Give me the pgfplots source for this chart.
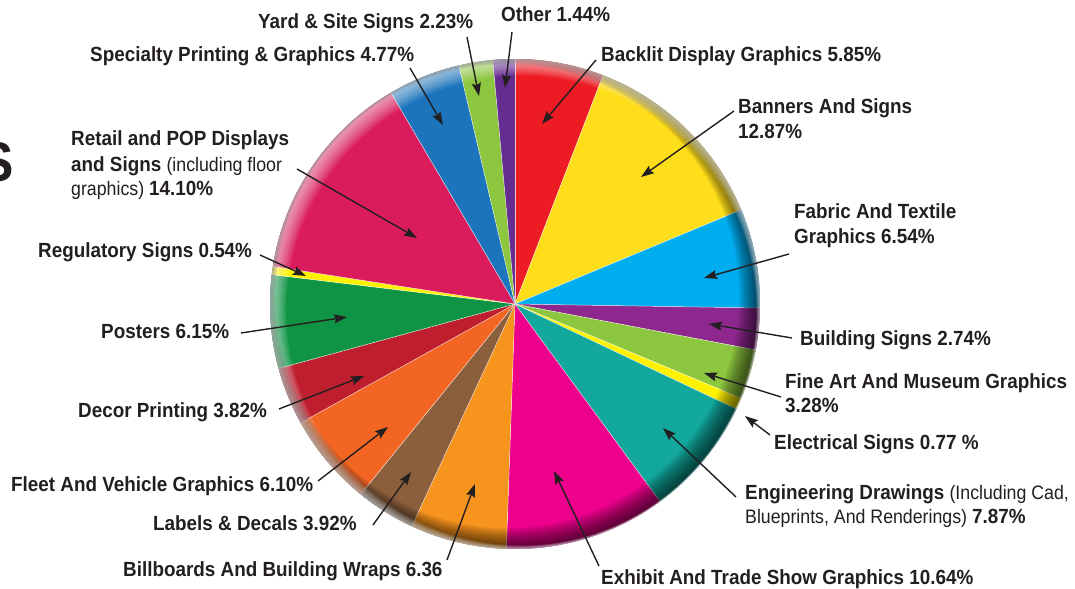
\documentclass[border=0pt]{standalone}
\usepackage{pgfplots}
\pgfplotsset{compat=1.18}
\usetikzlibrary{arrows.meta}
\usepackage{fontspec}
\setmainfont{Liberation Sans}[FakeStretch=0.92]
\newfontfamily\condreg{Liberation Sans}[FakeStretch=0.91]

\definecolor{txt}{HTML}{231F20}
\definecolor{cBacklit}{HTML}{ED1C24}
\definecolor{cBanners}{HTML}{FEDD1B}
\definecolor{cFabric}{HTML}{00AEEF}
\definecolor{cBuilding}{HTML}{8E288F}
\definecolor{cFineArt}{HTML}{8DC63F}
\definecolor{cElectrical}{HTML}{FFF200}
\definecolor{cEngineering}{HTML}{12A89D}
\definecolor{cExhibit}{HTML}{EC008C}
\definecolor{cBillboards}{HTML}{F7941D}
\definecolor{cLabels}{HTML}{8B5E3C}
\definecolor{cFleet}{HTML}{F26522}
\definecolor{cDecor}{HTML}{BE1E2D}
\definecolor{cPosters}{HTML}{0F9445}
\definecolor{cRegulatory}{HTML}{FFF200}
\definecolor{cRetail}{HTML}{DA1C5C}
\definecolor{cSpecialty}{HTML}{1C75BC}
\definecolor{cYard}{HTML}{8DC63F}
\definecolor{cOther}{HTML}{662D91}

\newcommand\B{\fontsize{20.5bp}{24bp}\selectfont\bfseries}
\newcommand\R{\condreg\fontsize{19.5bp}{22bp}\selectfont\mdseries}

\def\cum{0}
\newcommand\slice[2]{%
  \pgfmathsetmacro\aE{90-3.6*\cum}%
  \pgfmathsetmacro\cumnew{\cum+#1}%
  \global\let\cum\cumnew
  \pgfmathsetmacro\aS{90-3.6*\cum}%
  \edef\doslice{\noexpand\addplot[fill=#2, draw=none, data cs=polar, domain=\aS:\aE, samples=60, forget plot] {245} -- (axis cs:0,0) -- cycle;}%
  \doslice
  \edef\doline{\noexpand\addplot[draw=white, draw opacity=0.75, line width=0.5bp, data cs=polar, forget plot] coordinates {(\aE,0) (\aE,245)};}%
  \doline}

\begin{document}
\begin{tikzpicture}
\useasboundingbox (0,0) rectangle (1075bp,589bp);
\begin{axis}[at={(0,0)}, anchor=south west, x=1bp, y=1bp,
  xmin=-515, xmax=560, ymin=-285, ymax=304, enlargelimits=false,
  hide axis, clip=false]
% percentages, clockwise from 12 o'clock
\slice{5.85}{cBacklit}
\slice{12.87}{cBanners}
\slice{6.54}{cFabric}
\slice{2.74}{cBuilding}
\slice{3.28}{cFineArt}
\slice{0.77}{cElectrical}
\slice{7.87}{cEngineering}
\slice{10.64}{cExhibit}
\slice{6.36}{cBillboards}
\slice{3.92}{cLabels}
\slice{6.10}{cFleet}
\slice{3.82}{cDecor}
\slice{6.15}{cPosters}
\slice{0.54}{cRegulatory}
\slice{14.10}{cRetail}
\slice{4.77}{cSpecialty}
\slice{2.23}{cYard}
\slice{1.44}{cOther}
% rim shading (dark bottom-right, light top-left)
\pgfplotsinvokeforeach{1,...,12}{%
  \fill[black, fill opacity=0.07, even odd rule] (axis cs:0,0) circle[radius=245]
     (axis cs:{-0.636*#1},{0.636*#1}) circle[radius={245-1.1*#1}];}
\pgfplotsinvokeforeach{1,...,10}{%
  \fill[white, fill opacity=0.08, even odd rule] (axis cs:0,0) circle[radius=245]
     (axis cs:{0.636*#1},{-0.636*#1}) circle[radius={245-1.0*#1}];}
\end{axis}

\begin{scope}[x=1bp, y=-1bp, shift={(0,589bp)}, every node/.style={inner sep=0pt, text=txt, anchor=base west},
  arr/.style={draw=txt, line width=1.4bp, -{Stealth[length=13bp, width=9bp, inset=2bp]}}]
% big cut letter
\node[anchor=base east] at (14,182) {\fontsize{56bp}{60bp}\selectfont\bfseries S};
% labels
\node at (258,29) {\B Yard \& Site Signs 2.23\%};
\node at (501,22) {\B Other 1.44\%};
\node at (90,62) {\B Specialty Printing \& Graphics 4.77\%};
\node at (601,62) {\B Backlit Display Graphics 5.85\%};
\node at (738,114) {\B Banners And Signs};
\node at (738,139) {\B 12.87\%};
\node at (71,146) {\B Retail and POP Displays};
\node at (71,172) {\B and Signs {\R(including floor}};
\node at (71,196) {{\R graphics) }\B 14.10\%};
\node at (794,219) {\B Fabric And Textile};
\node at (794,244) {\B Graphics 6.54\%};
\node at (38,258) {\B Regulatory Signs 0.54\%};
\node at (101,339) {\B Posters 6.15\%};
\node at (800,346) {\B Building Signs 2.74\%};
\node at (785,389) {\B Fine Art And Museum Graphics};
\node at (785,413) {\B 3.28\%};
\node at (78,418) {\B Decor Printing 3.82\%};
\node at (774,450) {\B Electrical Signs 0.77 \%};
\node at (11,492) {\B Fleet And Vehicle Graphics 6.10\%};
\node at (745,500) {\B Engineering Drawings {\R(Including Cad,}};
\node at (745,524) {{\R Blueprints, And Renderings) }\B 7.87\%};
\node at (153,531) {\B Labels \& Decals 3.92\%};
\node at (123,577) {\B Billboards And Building Wraps 6.36};
\node at (601,585) {\B Exhibit And Trade Show Graphics 10.64\%};
% arrows
\draw[arr] (467,37) -- (479,96);
\draw[arr] (512,32) -- (505,88);
\draw[arr] (410,68) -- (443,125);
\draw[arr] (596,60) -- (542,124);
\draw[arr] (734,111) -- (641,177);
\draw[arr] (789,254) -- (704,278);
\draw[arr] (792,338) -- (709,324);
\draw[arr] (781,397) -- (704,373);
\draw[arr] (770,435) -- (745,416);
\draw[arr] (736,497) -- (663,428);
\draw[arr] (599,566) -- (554,471);
\draw[arr] (447,560) -- (475,484);
\draw[arr] (373,525) -- (411,472);
\draw[arr] (318,481) -- (388,427);
\draw[arr] (279,409) -- (364,376);
\draw[arr] (241,333) -- (347,317);
\draw[arr] (260,255) -- (306,276);
\draw[arr] (297,169) -- (417,238);
\end{scope}
\end{tikzpicture}
\end{document}
